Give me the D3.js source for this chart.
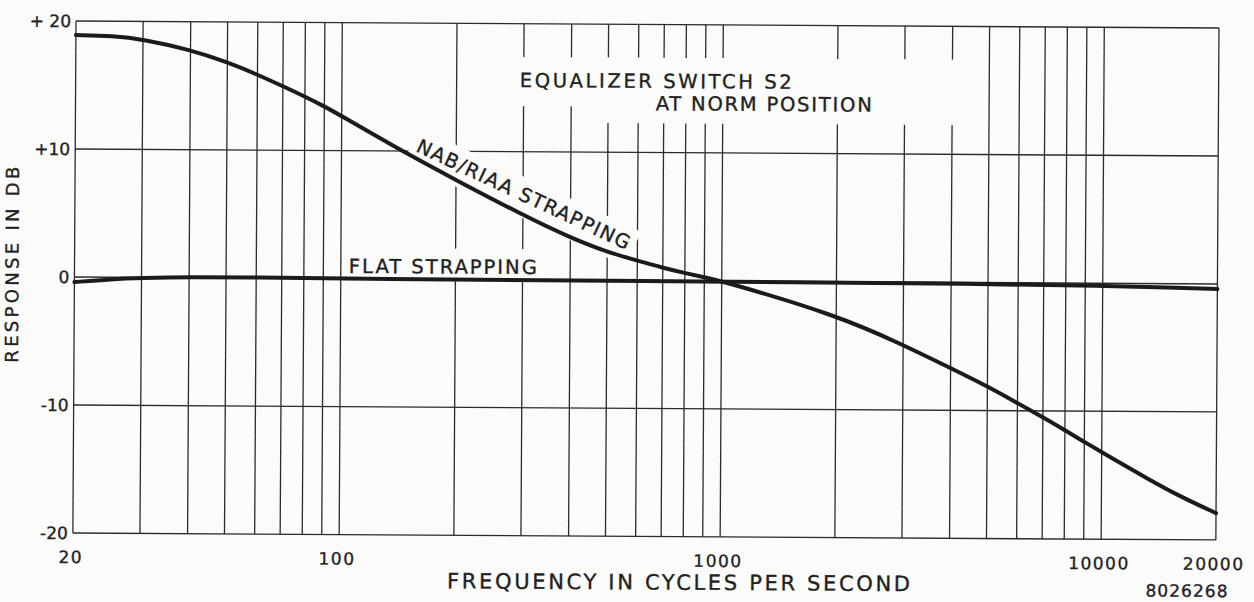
<!DOCTYPE html>
<html>
<head>
<meta charset="utf-8">
<script src="https://cdn.jsdelivr.net/npm/d3@7"></script>
<style>
  body { margin: 0; background: #fbfbfa; }
  svg { display: block; font-family: "DejaVu Sans", sans-serif; }
  .grid line { stroke: #2b2b2b; stroke-width: 1.3; }
  .knock { fill: #fbfbfa; }
  .curve { fill: none; stroke: #1b1b1b; stroke-width: 4; stroke-linecap: round; stroke-linejoin: round; }
  text { fill: #222; stroke: #222; stroke-width: 0.35; }
</style>
</head>
<body>
<div id="chart"></div>
<script>
// NAB/RIAA strapping response
const nabFreqs = [20, 25, 30, 40, 50, 60, 70, 80, 90, 100, 140, 200, 300, 400, 500, 600, 700, 800, 900,
  1000, 2000, 3000, 4000, 5000, 6000, 7000, 8000, 9000, 10000, 13300, 16300, 20000];
const nabDb = [18.9, 18.85, 18.6, 17.8, 16.85, 15.9, 15.0, 14.2, 13.45, 12.7, 10.2, 7.75, 5.05, 3.3, 2.2, 1.55, 1.0, 0.6, 0.28,
  0.0, -2.6, -4.9, -6.7, -8.1, -9.4, -10.5, -11.5, -12.4, -13.2, -15.3, -16.7, -17.9];

// flat strapping response
const flatFreqs = [20, 25, 30, 40, 60, 100, 1000, 5000, 10000, 15000, 20000];
const flatDb = [-0.4, -0.15, -0.05, 0.05, 0.05, 0.0, -0.05, -0.1, -0.2, -0.3, -0.4];

const gridFreqs = [20, 30, 40, 50, 60, 70, 80, 90, 100, 200, 300, 400, 500, 600, 700, 800, 900,
  1000, 2000, 3000, 4000, 5000, 6000, 7000, 8000, 9000, 10000, 20000];
const freqTicks = [20, 100, 1000, 10000, 20000];
const freqTickLabels = ["20", "100", "1000", "10000", "20000"];
const dbTicks = [20, 10, 0, -10, -20];
const dbTickLabels = ["+ 20", "+10", "0", "-10", "-20"];

const width = 1254, height = 602;
const marginLeft = 76, marginTop = 21, W = 1143, H = 512;
const tilt = 0.35; // the scanned sheet sits slightly skewed

const svg = d3.select("#chart").append("svg")
  .attr("width", width)
  .attr("height", height);

svg.append("rect").attr("width", width).attr("height", height).attr("fill", "#fbfbfa");

const g = svg.append("g")
  .attr("transform", `translate(${marginLeft},${marginTop}) rotate(${tilt})`);

const x = d3.scaleLog().domain([20, 20000]).range([0, W]);
const y = d3.scaleLinear().domain([-20, 20]).range([H, 0]);

// grid (outer frame included)
const grid = g.append("g").attr("class", "grid");
grid.selectAll(".v").data(gridFreqs).enter().append("line")
  .attr("x1", d => x(d)).attr("x2", d => x(d))
  .attr("y1", 0).attr("y2", H);
grid.selectAll(".h").data(dbTicks).enter().append("line")
  .attr("x1", 0).attr("x2", W)
  .attr("y1", d => y(d)).attr("y2", d => y(d));

// annotation anchors
const eq1 = [x(293), y(15.05)];
const eq2 = [x(667), y(13.3)];
const flatPos = [x(105), y(0.45)];
const nabPos = [x(156), y(10.0)];
const nabAngle = 24.75;

// white knock-outs behind lettering, like the drafted original
const knock = g.append("g").attr("class", "knock");
knock.append("rect")
  .attr("x", eq1[0] - 8).attr("y", eq1[1] - 30)
  .attr("width", 473).attr("height", 49);
knock.append("rect")
  .attr("x", eq2[0] - 58).attr("y", eq1[1] - 30)
  .attr("width", 909 - (eq2[0] - 58)).attr("height", eq2[1] + 13 - (eq1[1] - 30));
knock.append("rect")
  .attr("x", flatPos[0] - 5).attr("y", flatPos[1] - 25)
  .attr("width", 201).attr("height", y(0) - (flatPos[1] - 25));
knock.append("rect")
  .attr("transform", `translate(${nabPos[0]},${nabPos[1]}) rotate(${nabAngle})`)
  .attr("x", -6).attr("y", -23)
  .attr("width", 245).attr("height", 38);

// curves
const line = d3.line()
  .x(d => x(d[0]))
  .y(d => y(d[1]))
  .curve(d3.curveBasis);

g.append("path")
  .attr("class", "curve")
  .attr("d", line(flatFreqs.map((f, i) => [f, flatDb[i]])));

g.append("path")
  .attr("class", "curve")
  .attr("d", line(nabFreqs.map((f, i) => [f, nabDb[i]])));

// tick labels
g.selectAll(".ylab").data(dbTicks).enter().append("text")
  .attr("x", -5)
  .attr("y", d => y(d))
  .attr("dy", "0.36em")
  .attr("text-anchor", "end")
  .attr("font-size", 17)
  .text((d, i) => dbTickLabels[i]);

g.selectAll(".xlab").data(freqTicks).enter().append("text")
  .attr("x", d => x(d) - 2)
  .attr("y", H + 30)
  .attr("text-anchor", "middle")
  .attr("font-size", 17)
  .attr("letter-spacing", 1.5)
  .text((d, i) => freqTickLabels[i]);

// titles
g.append("text")
  .attr("x", 374.5).attr("y", H + 53)
  .attr("font-size", 21)
  .attr("textLength", 463).attr("lengthAdjust", "spacing")
  .text("FREQUENCY IN CYCLES PER SECOND");

g.append("text")
  .attr("transform", "translate(-56,342) rotate(-90)")
  .attr("font-size", 18)
  .attr("textLength", 196).attr("lengthAdjust", "spacing")
  .text("RESPONSE IN DB");

g.append("text")
  .attr("x", 1073).attr("y", H + 57)
  .attr("font-size", 17)
  .attr("textLength", 82).attr("lengthAdjust", "spacing")
  .text("8026268");

// annotations
g.append("text")
  .attr("x", eq1[0]).attr("y", eq1[1])
  .attr("font-size", 19.5)
  .attr("textLength", 272).attr("lengthAdjust", "spacing")
  .text("EQUALIZER SWITCH S2");

g.append("text")
  .attr("x", eq2[0]).attr("y", eq2[1])
  .attr("font-size", 19.5)
  .attr("textLength", 216).attr("lengthAdjust", "spacing")
  .text("AT NORM POSITION");

g.append("text")
  .attr("x", flatPos[0]).attr("y", flatPos[1])
  .attr("font-size", 19.5)
  .attr("textLength", 188).attr("lengthAdjust", "spacing")
  .text("FLAT STRAPPING");

g.append("text")
  .attr("transform", `translate(${nabPos[0]},${nabPos[1]}) rotate(${nabAngle})`)
  .attr("font-size", 19.5)
  .attr("textLength", 233).attr("lengthAdjust", "spacing")
  .text("NAB/RIAA STRAPPING");
</script>
</body>
</html>
